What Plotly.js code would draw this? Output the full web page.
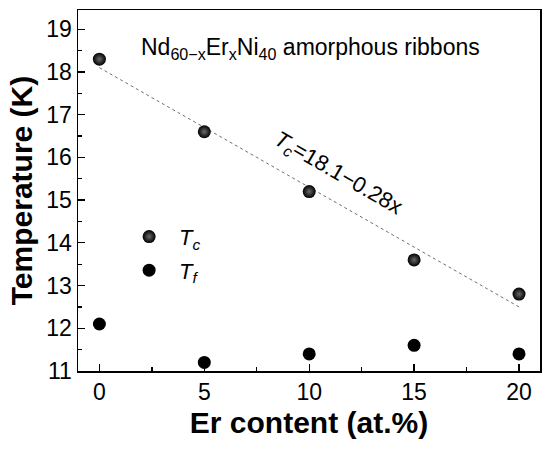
<!DOCTYPE html>
<html>
<head>
<meta charset="utf-8">
<script src="https://cdn.plot.ly/plotly-3.0.1.min.js"></script>
<style>html,body{margin:0;padding:0;background:#fff;}#chart{width:550px;height:452px;}</style>
</head>
<body>
<div id="chart"></div>
<script>
// Data
var erContent = [0, 5, 10, 15, 20];
var tcValues = [18.3, 16.6, 15.2, 13.6, 12.8];
var tfValues = [12.1, 11.2, 11.4, 11.6, 11.4];
// Linear fit endpoints: Tc = 18.1 - 0.28x
var fitX = [0, 20];
var fitY = [18.1, 12.5];
var xTicks = [0, 5, 10, 15, 20];
var yTicks = [11, 12, 13, 14, 15, 16, 17, 18, 19];

var FONT = 'Liberation Sans, Arial, sans-serif';

var traces = [
  {
    x: fitX, y: fitY, mode: 'lines', type: 'scatter', showlegend: false,
    line: {color: '#6f6f6f', width: 1, dash: 'dot'}, hoverinfo: 'skip'
  },
  {
    x: erContent, y: tcValues, mode: 'markers', type: 'scatter',
    name: '<i>T</i><sub><i>c</i></sub>', legendgroup: 'a',
    marker: {size: 13, color: '#000', gradient: {type: 'radial', color: '#6a6a6a'}, line: {width: 0}}
  },
  {
    x: erContent, y: tfValues, mode: 'markers', type: 'scatter',
    name: '<i>T</i><sub><i>f</i></sub>', legendgroup: 'b',
    marker: {size: 13, color: '#000', line: {width: 0}}
  }
];

var layout = {
  width: 550, height: 452,
  margin: {l: 78, r: 10, t: 10, b: 81},
  paper_bgcolor: '#fff', plot_bgcolor: '#fff',
  font: {family: FONT, color: '#000'},
  showlegend: true,
  legend: {
    x: 0.089, y: 0.43, xanchor: 'left', yanchor: 'top',
    bgcolor: 'rgba(0,0,0,0)', itemwidth: 50,
    font: {family: FONT, size: 22, color: '#000'},
    traceorder: 'grouped', tracegroupgap: 2
  },
  xaxis: {
    range: [-1.02, 21], tickvals: xTicks, ticktext: xTicks.map(String),
    ticks: 'inside', ticklen: 7, tickwidth: 1.3, tickcolor: '#000',
    minor: {dtick: 2.5, tick0: 0, ticks: 'inside', ticklen: 4, tickwidth: 1.3, tickcolor: '#000'},
    showline: true, linecolor: '#000', linewidth: 1.5, mirror: true,
    showgrid: false, zeroline: false,
    tickfont: {family: FONT, size: 23, color: '#000'},
    title: {text: '<b>Er content (at.%)</b>', font: {family: FONT, size: 30, color: '#000'}, standoff: 8}
  },
  yaxis: {
    range: [11, 19.45], tickvals: yTicks, ticktext: yTicks.map(String),
    ticks: 'inside', ticklen: 7, tickwidth: 1.3, tickcolor: '#000',
    minor: {dtick: 0.5, tick0: 11, ticks: 'inside', ticklen: 4, tickwidth: 1.3, tickcolor: '#000'},
    showline: true, linecolor: '#000', linewidth: 1.5, mirror: true,
    showgrid: false, zeroline: false,
    tickfont: {family: FONT, size: 23, color: '#000'},
    title: {text: '<b>Temperature (K)</b>', font: {family: FONT, size: 30, color: '#000'}, standoff: 5}
  },
  annotations: [
    {
      x: 10.08, y: 18.55, xref: 'x', yref: 'y', showarrow: false,
      text: 'Nd<sub>60\u2212x</sub>Er<sub>x</sub>Ni<sub>40</sub> amorphous ribbons',
      font: {family: FONT, size: 23, color: '#000'}, xanchor: 'center', yanchor: 'middle'
    },
    {
      x: 11.37, y: 15.61, xref: 'x', yref: 'y', showarrow: false,
      text: '<i>T</i><sub><i>c</i></sub>=18.1\u22120.28x',
      textangle: 30,
      font: {family: FONT, size: 22, color: '#000'}, xanchor: 'center', yanchor: 'middle'
    }
  ]
};

Plotly.newPlot('chart', traces, layout, {displayModeBar: false, staticPlot: true});
</script>
</body>
</html>
